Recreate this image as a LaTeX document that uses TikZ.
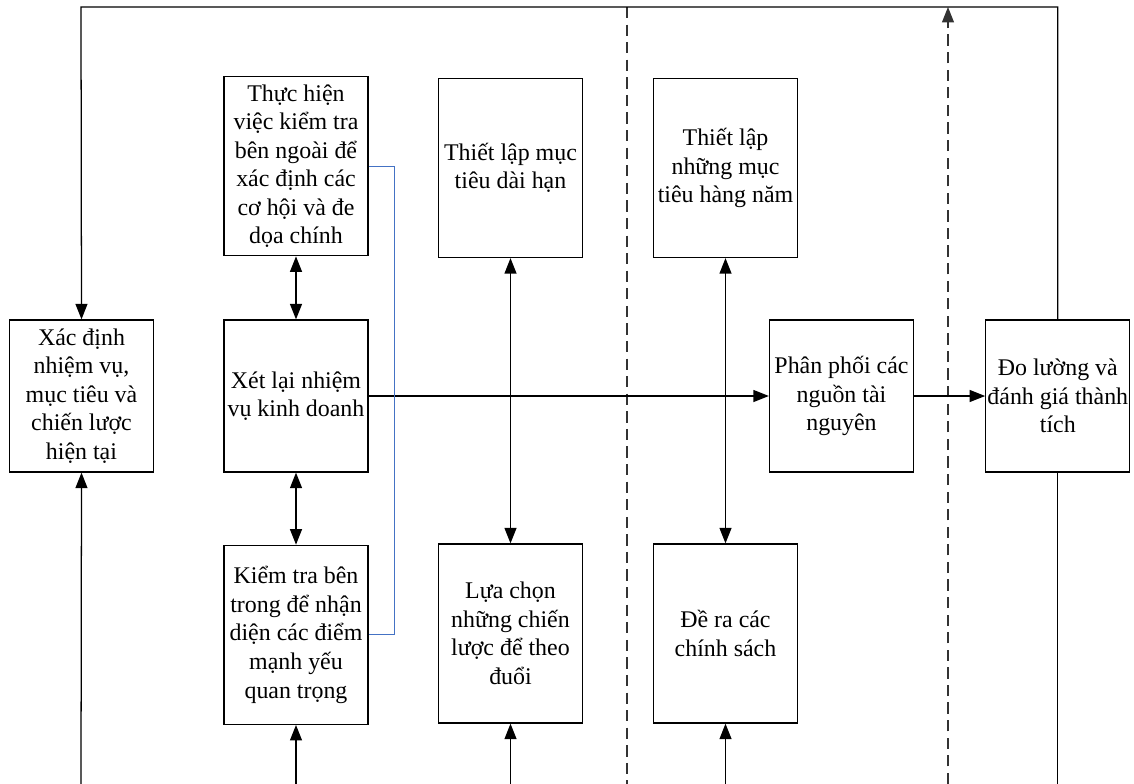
\documentclass[tikz,border=0pt]{standalone}
\usepackage{fontspec}
\setmainfont{Liberation Serif}
\usetikzlibrary{arrows.meta, positioning}
\tikzstyle{box} = [rectangle, minimum width=3.6cm, minimum height=3.8cm, inner sep=0pt, align=center, draw=black, line width=0.9pt, font=\fontsize{17}{20.3}\selectfont]
\tikzstyle{tallbox} = [box, minimum height=4.475cm]
\tikzstyle{arrow} = [line width=0.9pt, -{Triangle[length=11pt, width=8.5pt]}]
\tikzstyle{twoway} = [line width=0.9pt, {Triangle[length=11pt, width=8.5pt]}-{Triangle[length=11pt, width=8.5pt]}]
\tikzstyle{divider} = [line width=0.9pt, dash pattern=on 8pt off 4.5pt, black!80]
\tikzstyle{feedback} = [line width=0.9pt, draw={rgb,255:red,68;green,114;blue,196}]

\begin{document}
\begin{tikzpicture}[x=0.025cm, y=-0.025cm]
    \useasboundingbox (0,0) rectangle (1134,784);
    % boxes
    \node (current) [box] at (81.5,396) {Xác định\\nhiệm vụ,\\mục tiêu và\\chiến lược\\hiện tại};
    \node (mission) [box] at (296,396) {Xét lại nhiệm\\vụ kinh doanh};
    \node (external) [tallbox, above=1.575cm of mission] {Thực hiện\\việc kiểm tra\\bên ngoài để\\xác định các\\cơ hội và đe\\dọa chính};
    \node (internal) [tallbox, below=1.8cm of mission] {Kiểm tra bên\\trong để nhận\\diện các điểm\\mạnh yếu\\quan trọng};
    \node (longterm) [tallbox] at (510.5,168) {Thiết lập mục\\tiêu dài hạn};
    \node (choose) [tallbox] at (510.5,633.5) {Lựa chọn\\những chiến\\lược để theo\\đuổi};
    \node (annual) [tallbox] at (725.5,168) {Thiết lập\\những mục\\tiêu hàng năm};
    \node (policies) [tallbox] at (725.5,633.5) {Đề ra các\\chính sách};
    \node (allocate) [box] at (841.5,396) {Phân phối các\\nguồn tài\\nguyên};
    \node (measure) [box, right=1.775cm of allocate] {Đo lường và\\đánh giá thành\\tích};

    % free ends
    \coordinate (tl) at (81,7);
    \coordinate (b1) at (81,784);
    \coordinate (b2) at (296,784);
    \coordinate (b3) at (510.5,784);
    \coordinate (b4) at (725.5,784);
    \coordinate (d1t) at (627,7);
    \coordinate (d1b) at (627,784);
    \coordinate (d2t) at (948,7);
    \coordinate (d2b) at (948,784);

    % dividers
    \draw [divider] (d1t) -- (d1b);
    \draw [divider, arrow] (d2b) -- (d2t);

    % loop round the top
    \draw [arrow] (measure.north) |- (tl) -- (current.north);
    \draw [line width=0.9pt] (measure.south) -- (measure.south |- b1);

    % inputs from below
    \draw [arrow] (b1) -- (current.south);
    \draw [arrow] (b2) -- (internal.south);
    \draw [arrow] (b3) -- (choose.south);
    \draw [arrow] (b4) -- (policies.south);

    % links
    \draw [twoway] (external.south) -- (mission.north);
    \draw [twoway] (mission.south) -- (internal.north);
    \draw [twoway] (longterm.south) -- (choose.north);
    \draw [twoway] (annual.south) -- (policies.north);
    \draw [arrow] (mission.east) -- (allocate.west);
    \draw [arrow] (allocate.east) -- (measure.west);
    \draw [feedback] (external.east) -- ++(26,0) |- (internal.east);
\end{tikzpicture}
\end{document}
